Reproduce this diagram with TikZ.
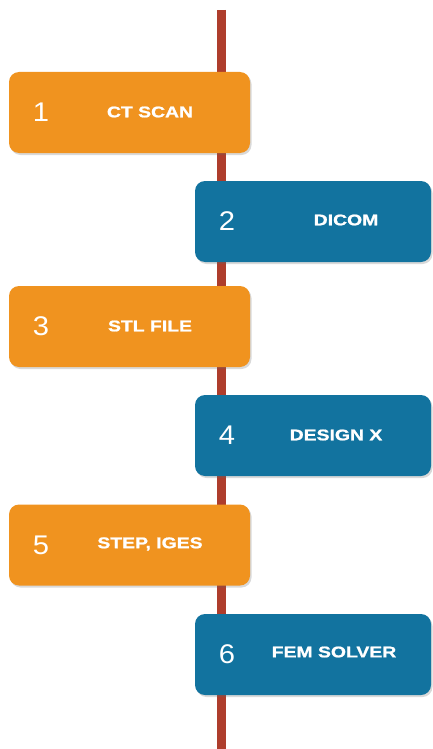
\documentclass[tikz,border=0pt]{standalone}
\usepackage{fontspec}
\setmainfont{Liberation Sans}
\newfontfamily\lblfont[FakeStretch=1.25, FakeBold=1.2]{Liberation Sans}
\newfontfamily\numfont[FakeStretch=1.08]{Liberation Sans}
\usetikzlibrary{shadows}
\definecolor{stepor}{HTML}{F0931F}
\definecolor{stepbl}{HTML}{12739F}
\definecolor{axisred}{HTML}{AE3D2C}
\begin{document}
\begin{tikzpicture}[x=1pt,y=-1pt,
  box/.style={rounded corners=10pt, minimum height=81pt, inner sep=0pt,
    drop shadow={shadow xshift=1.5pt, shadow yshift=-2pt, opacity=0.25, fill=black!60}},
  leftbox/.style={box, fill=stepor, minimum width=241pt},
  rightbox/.style={box, fill=stepbl, minimum width=236pt},
  num/.style={text=white, font=\numfont\fontsize{27}{27}\selectfont},
  lbl/.style={text=white, font=\lblfont\bfseries\fontsize{15.5}{15.5}\selectfont}]
\useasboundingbox (0,0) rectangle (432,749);
\coordinate (top) at (221.5,10);
\coordinate (bot) at (221.5,749);
\draw[axisred, line width=9pt] (top) -- (bot);
% boxes
\node[leftbox]  (b1) at (129.5,112.5) {};
\node[rightbox] (b2) at (313,221.5) {};
\node[leftbox]  (b3) at (129.5,326.5) {};
\node[rightbox] (b4) at (313,435.5) {};
\node[leftbox]  (b5) at (129.5,545) {};
\node[rightbox] (b6) at (313,654.5) {};
% numbers
\node[num] (n1) at (41,112.5) {1};
\node[num] (n2) at (227,221.5) {2};
\node[num] (n3) at (41,326.5) {3};
\node[num] (n4) at (227,435.5) {4};
\node[num] (n5) at (41,545) {5};
\node[num] (n6) at (227,654.5) {6};
% labels
\node[lbl] (l1) at (150,112) {CT SCAN};
\node[lbl] (l2) at (346,220) {DICOM};
\node[lbl] (l3) at (150,326) {STL FILE};
\node[lbl] (l4) at (336,435) {DESIGN X};
\node[lbl] (l5) at (150,544) {STEP, IGES};
\node[lbl] (l6) at (334,652) {FEM SOLVER};
\end{tikzpicture}
\end{document}
